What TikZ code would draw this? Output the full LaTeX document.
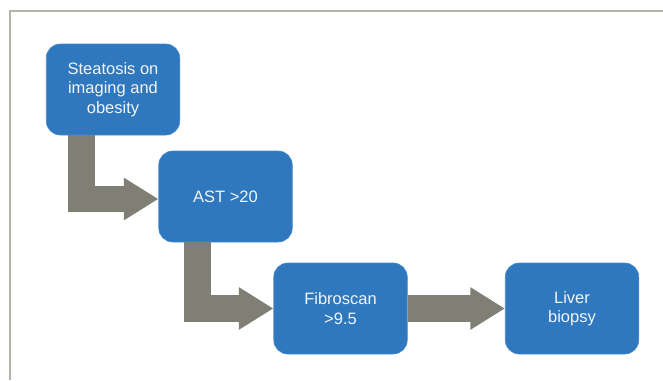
\documentclass[tikz,border=0pt]{standalone}
\usepackage{fontspec}
\setmainfont{Liberation Sans}
\usetikzlibrary{arrows.meta,calc}
\definecolor{boxblue}{HTML}{2F78BE}
\definecolor{boxedge}{HTML}{4A8AD0}
\definecolor{arrowgray}{HTML}{7F7F75}
\definecolor{framegray}{HTML}{B5B3A8}
\definecolor{textwhite}{HTML}{F2F5FA}
\begin{document}
\begin{tikzpicture}[x=1pt,y=-1pt,
  stepbox/.style={draw=boxedge, line width=0.6pt, fill=boxblue, rounded corners=14pt,
    minimum width=133.5pt, minimum height=91pt, inner sep=2pt, align=center,
    text=textwhite, font=\fontsize{16.5pt}{19.5pt}\selectfont},
  flowarrow/.style={draw=arrowgray, line width=26.5pt, line join=miter,
    -{Triangle[length=34.5pt,width=40pt]}}]
\useasboundingbox (0,0) rectangle (663,380);
\draw[framegray, line width=1.2pt] (10,380) -- (10,11) -- (663,11);
\node[stepbox] (s) at (113,89.5) {Steatosis on\\imaging and\\obesity};
\node[stepbox] (a) at (225.5,196.5) {AST >20};
\node[stepbox] (f) at (340.5,308.5) {Fibroscan\\>9.5};
\node[stepbox] (l) at (572,308.5) {Liver\\biopsy};
\draw[flowarrow] ($(s.south west)+(35.5,0)$) |- ($(a.west)+(0,2.5)$);
\draw[flowarrow] ($(a.south west)+(39,0)$) |- (f.west);
\draw[flowarrow] (f.east) -- (l.west);
\end{tikzpicture}
\end{document}
